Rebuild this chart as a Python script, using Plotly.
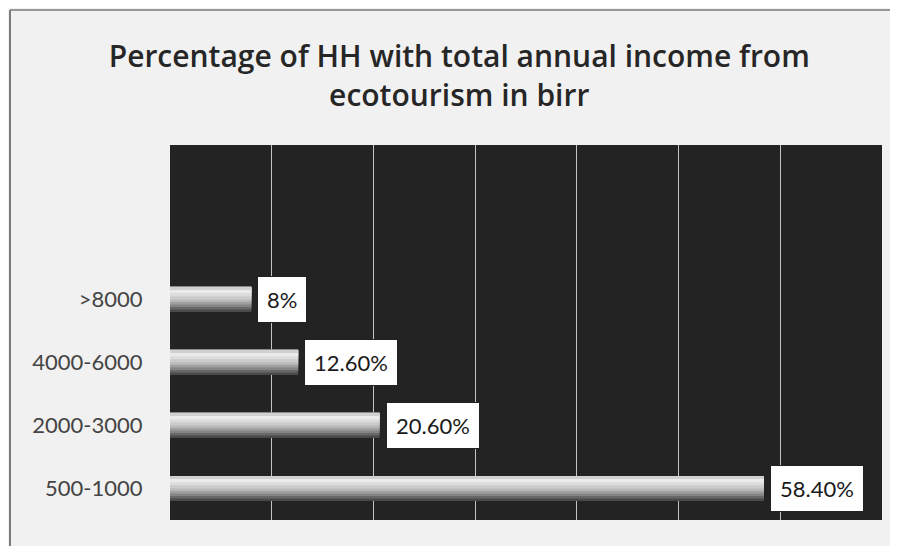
import plotly.graph_objects as go

categories = ["500-1000", "2000-3000", "4000-6000", ">8000"]
values = [58.4, 20.6, 12.6, 8.0]
value_labels = ["58.40%", "20.60%", "12.60%", "8%"]
title_text = "Percentage of HH with total annual income from<br>ecotourism in birr"

FONT = "Lato"

fig = go.Figure()

# layered bars imitate the cylinder-like grey gradient (dark bottom, light top)
stripes = [
    (0.40, -0.20, "#4a4a4a"),
    (0.36, -0.16, "#686868"),
    (0.32, -0.12, "#858585"),
    (0.28, -0.08, "#a0a0a0"),
    (0.24, -0.04, "#b8b8b8"),
    (0.20, 0.00, "#cbcbcb"),
    (0.14, 0.05, "#dcdcdc"),
    (0.08, 0.10, "#ebebeb"),
    (0.04, 0.15, "#d0d0d0"),
]
for w, off, col in stripes:
    fig.add_trace(go.Bar(
        x=values, y=categories, orientation="h",
        width=w, offset=off,
        marker=dict(color=col, line=dict(width=0)),
        hoverinfo="skip", showlegend=False,
    ))

for v, c, t in zip(values, categories, value_labels):
    fig.add_annotation(
        x=v, y=c, text=t, showarrow=False, xanchor="left", yanchor="middle",
        xshift=6, bgcolor="white", bordercolor="#222", borderwidth=1, borderpad=9,
        font=dict(family=FONT, size=22, color="#1a1a1a"),
    )

fig.update_layout(
    width=890, height=538,
    barmode="overlay",
    paper_bgcolor="#f1f1f1",
    plot_bgcolor="#232323",
    margin=dict(l=162, r=16, t=137, b=26),
    title=dict(text=title_text, x=0.507, xanchor="center", y=0.89, yanchor="top",
               font=dict(family="Open Sans", size=30, color="#262626", weight=600)),
    xaxis=dict(range=[0, 70], dtick=10, showticklabels=False, showgrid=True,
               gridcolor="#c4c4c4", gridwidth=1, zeroline=False, showline=False,
               fixedrange=True),
    yaxis=dict(type="category", categoryorder="array", categoryarray=categories,
               range=[-0.5, 5.45], showgrid=False, zeroline=False, showline=False,
               ticks="outside", ticklen=22, tickcolor="rgba(0,0,0,0)",
               tickfont=dict(family=FONT, size=22, color="#444")),
    shapes=[
        dict(type="line", xref="paper", yref="paper", x0=-0.2247, x1=-0.2247,
             y0=-0.07, y1=1.36, line=dict(color="#555", width=1.5)),
        dict(type="line", xref="paper", yref="paper", x0=-0.2247, x1=1.023,
             y0=1.36, y1=1.36, line=dict(color="#777", width=1.5)),
    ],
)

fig.write_html("out.html")
